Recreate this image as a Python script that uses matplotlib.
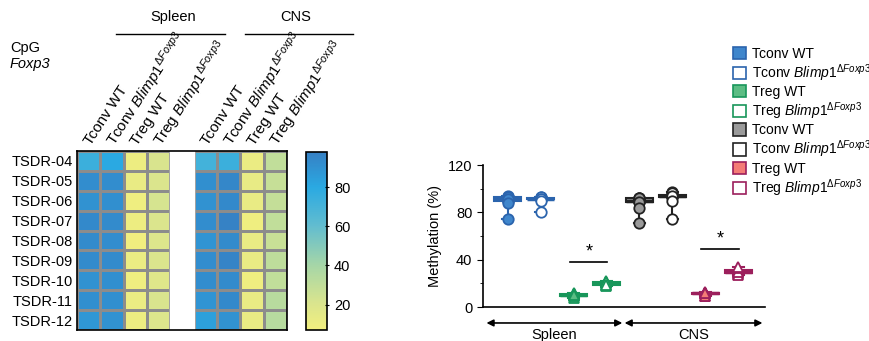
import numpy as np
import matplotlib
matplotlib.use("Agg")
import matplotlib.pyplot as plt
from matplotlib.colors import LinearSegmentedColormap
from matplotlib.patches import Patch, Rectangle

plt.rcParams['font.family'] = ['Liberation Sans', 'DejaVu Sans']
plt.rcParams['mathtext.fontset'] = 'custom'
plt.rcParams['mathtext.rm'] = 'Liberation Sans'
plt.rcParams['mathtext.it'] = 'Liberation Sans:italic'

# CpG sites (rows)
cpg_sites = ["TSDR-04", "TSDR-05", "TSDR-06", "TSDR-07", "TSDR-08",
             "TSDR-09", "TSDR-10", "TSDR-11", "TSDR-12"]

# methylation (%) per group, in row order
sp_tconv_wt = [74, 92, 90, 94, 93, 93, 90, 91, 88]
sp_tconv_ko = [80, 92, 91, 93, 92, 93, 91, 91, 90]
sp_treg_wt = [10, 12, 9, 10, 8, 11, 9, 11, 10]
sp_treg_ko = [21, 20, 22, 20, 19, 20, 18, 21, 19]
cns_tconv_wt = [71, 91, 90, 92, 89, 92, 92, 89, 84]
cns_tconv_ko = [74, 95, 94, 97, 93, 96, 93, 94, 90]
cns_treg_wt = [11, 13, 12, 9, 12, 12, 9, 12, 12]
cns_treg_ko = [30, 28, 29, 30, 27, 31, 30, 33, 34]

ko = r"$\mathit{Blimp1}^{\mathit{\Delta Foxp3}}$"
col_labels = ["Tconv WT", "Tconv " + ko, "Treg WT", "Treg " + ko, None,
              "Tconv WT", "Tconv " + ko, "Treg WT", "Treg " + ko]
groups = [sp_tconv_wt, sp_tconv_ko, sp_treg_wt, sp_treg_ko,
          cns_tconv_wt, cns_tconv_ko, cns_treg_wt, cns_treg_ko]
legend_labels = ["Tconv WT", "Tconv " + ko, "Treg WT", "Treg " + ko,
                 "Tconv WT", "Tconv " + ko, "Treg WT", "Treg " + ko]
face = ['#3f86cc', 'white', '#5cbd84', 'white', '#9a9a9a', 'white', '#f47c76', 'white']
edge = ['#2b64ad', '#2b64ad', '#18965a', '#18965a', '#222222', '#222222', '#9c1f5c', '#9c1f5c']
markers = ['o', 'o', '^', '^', 'o', 'o', '^', '^']

vmin, vmax = 7, 98
stops = [(7, '#f2ef7e'), (20, '#dbe58d'), (40, '#a6d6a7'), (60, '#63bdcf'),
         (80, '#2aa9e2'), (98, '#3680c4')]
cmap = LinearSegmentedColormap.from_list(
    'meth', [((v - vmin) / (vmax - vmin), c) for v, c in stops])

fig = plt.figure(figsize=(8.7, 3.41), dpi=100)

# ---- heatmap ----
ax = fig.add_axes([0.0885, 0.0323, 0.2414, 0.525])
cols = [sp_tconv_wt, sp_tconv_ko, sp_treg_wt, sp_treg_ko,
        [np.nan] * 9, cns_tconv_wt, cns_tconv_ko, cns_treg_wt, cns_treg_ko]
mat = np.ma.masked_invalid(np.array(cols, dtype=float).T)
mesh = ax.pcolormesh(mat, cmap=cmap, vmin=vmin, vmax=vmax,
                     edgecolors='#8c8c8c', linewidth=0.8, zorder=1)
# blank spacer column between tissues
ax.add_patch(Rectangle((4, 0), 1, 9, facecolor='white', edgecolor='white',
                       linewidth=1.0, zorder=2))
ax.set_xlim(0, 9)
ax.set_ylim(9, 0)
ax.set_yticks(np.arange(9) + 0.5)
ax.set_yticklabels(cpg_sites, fontsize=10.5)
ax.set_xticks([])
ax.tick_params(axis='y', length=0, pad=3)
for s in ax.spines.values():
    s.set_linewidth(1.2)
for i, lab in enumerate(col_labels):
    if lab is None:
        continue
    ax.text(i + 0.45, -0.35, lab, rotation=57, rotation_mode='anchor',
            ha='left', va='center', fontsize=11)

cax = fig.add_axes([0.3517, 0.0323, 0.0241, 0.522])
cb = fig.colorbar(mesh, cax=cax, ticks=[20, 40, 60, 80])
cb.outline.set_linewidth(1.2)
cax.tick_params(labelsize=10.5, length=3, direction='inout')

fig.text(173 / 870, 1 - 17 / 341, "Spleen", ha='center', va='center', fontsize=10.5)
fig.text(296 / 870, 1 - 17 / 341, "CNS", ha='center', va='center', fontsize=10.5)
fig.add_artist(plt.Line2D([116 / 870, 225 / 870], [1 - 34 / 341] * 2, color='black', lw=1))
fig.add_artist(plt.Line2D([245 / 870, 353 / 870], [1 - 34 / 341] * 2, color='black', lw=1))
fig.text(10 / 870, 1 - 48 / 341, "CpG", ha='left', va='center', fontsize=10.5)
fig.text(10 / 870, 1 - 64 / 341, "Foxp3", ha='left', va='center', fontsize=10.5, style='italic')

# ---- box plot ----
bx = fig.add_axes([0.555, 0.0997, 0.324, 0.4164])
pos = np.arange(1, 9)
for p, vals, fc, ec, mk in zip(pos, groups, face, edge, markers):
    bx.boxplot([vals], positions=[p], widths=0.8, whis=(0, 100),
               patch_artist=True, showfliers=False,
               boxprops=dict(facecolor=fc, edgecolor=ec, linewidth=1.5),
               medianprops=dict(color=ec, linewidth=2.5),
               whiskerprops=dict(color=ec, linewidth=1.5),
               capprops=dict(color=ec, linewidth=1.5),
               capwidths=0.35)
    bx.plot([p] * len(vals), vals, linestyle='none', marker=mk, markersize=7.5,
            markerfacecolor=fc, markeredgecolor=ec, markeredgewidth=1.3, zorder=3)

bx.set_xlim(0.25, 8.8)
bx.set_ylim(0, 120)
bx.set_yticks([0, 40, 80, 120])
bx.set_yticks([20, 60, 100], minor=True)
bx.set_xticks([])
bx.tick_params(axis='y', labelsize=10.5, length=4)
bx.tick_params(axis='y', which='minor', length=2.5)
bx.set_ylabel("Methylation (%)", fontsize=10.5)
bx.spines['top'].set_visible(False)
bx.spines['right'].set_visible(False)
bx.spines['left'].set_linewidth(1.2)
bx.spines['bottom'].set_linewidth(1.2)

# significance
bx.plot([2.9, 4.03], [38, 38], color='black', lw=1.2)
bx.text(3.47, 39, "*", ha='center', va='bottom', fontsize=13)
bx.plot([6.88, 8.03], [49, 49], color='black', lw=1.2)
bx.text(7.45, 50, "*", ha='center', va='bottom', fontsize=13)

# tissue arrows
arrow = dict(arrowstyle='<|-|>', color='black', lw=1.2, mutation_scale=10,
             shrinkA=0, shrinkB=0)
bx.annotate("", xy=(0.36, -13.5), xytext=(4.48, -13.5), arrowprops=arrow,
            annotation_clip=False)
bx.annotate("", xy=(4.55, -13.5), xytext=(8.73, -13.5), arrowprops=arrow,
            annotation_clip=False)
bx.text(2.42, -24, "Spleen", ha='center', va='center', fontsize=10.5, clip_on=False)
bx.text(6.64, -24, "CNS", ha='center', va='center', fontsize=10.5, clip_on=False)

handles = [Patch(facecolor=fc, edgecolor=ec, linewidth=1.2) for fc, ec in zip(face, edge)]
fig.legend(handles, legend_labels, loc='upper left',
           bbox_to_anchor=(727 / 870, 1 - 41 / 341), frameon=False,
           fontsize=10, handlelength=1.0, handleheight=1.0,
           handletextpad=0.4, labelspacing=0.1, borderaxespad=0)

fig.savefig("out.png", dpi=100)
